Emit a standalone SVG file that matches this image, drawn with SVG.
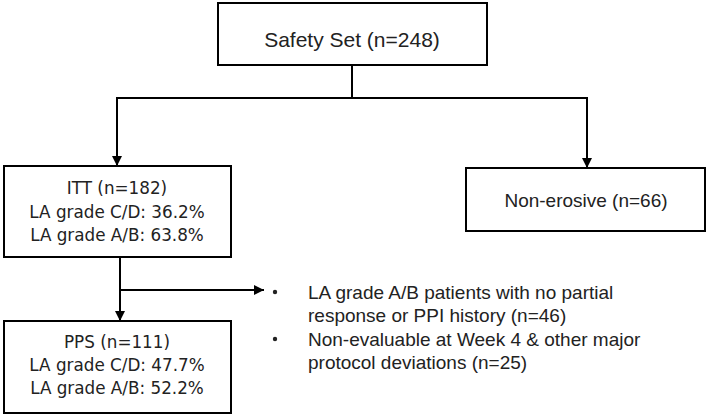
<svg xmlns="http://www.w3.org/2000/svg" width="709" height="416" viewBox="0 0 709 416">
  <style>
    .box { fill: #ffffff; stroke: #000000; stroke-width: 2; }
    .ln { fill: none; stroke: #000000; stroke-width: 2; }
    .t1 { font-family: "Liberation Sans", Arial, sans-serif; fill: #222222; text-anchor: middle; }
    .t2 { font-family: "DejaVu Sans", Verdana, sans-serif; fill: #222222; text-anchor: middle; font-size: 16.8px; }
    .t3 { font-family: "Liberation Sans", Arial, sans-serif; fill: #222222; font-size: 19px; }
  </style>
  <defs>
    <marker id="arr" markerUnits="userSpaceOnUse" markerWidth="12" markerHeight="12" refX="10" refY="5" orient="auto">
      <path d="M0,0 L10,5 L0,10 Z" fill="#000000"/>
    </marker>
  </defs>
  <rect width="709" height="416" fill="#ffffff"/>

  <g id="connectors">
    <line class="ln" x1="352" y1="65" x2="352" y2="98"/>
    <line class="ln" x1="116" y1="98" x2="588" y2="98"/>
    <line class="ln" x1="117" y1="98" x2="117" y2="166" marker-end="url(#arr)"/>
    <line class="ln" x1="587" y1="98" x2="587" y2="168" marker-end="url(#arr)"/>
    <line class="ln" x1="120" y1="257" x2="120" y2="321" marker-end="url(#arr)"/>
    <line class="ln" x1="120" y1="290" x2="264" y2="290" marker-end="url(#arr)"/>
  </g>

  <g id="safety">
    <rect class="box" x="218" y="3" width="269" height="62"/>
    <text class="t1" x="352" y="47" font-size="21">Safety Set (n=248)</text>
  </g>

  <g id="itt">
    <rect class="box" x="4" y="166" width="227" height="91"/>
    <text class="t2" x="117" y="194">ITT (n=182)</text>
    <text class="t2" x="117" y="218">LA grade C/D: 36.2%</text>
    <text class="t2" x="117" y="241">LA grade A/B: 63.8%</text>
  </g>

  <g id="nonerosive">
    <rect class="box" x="466" y="168" width="239" height="63"/>
    <text class="t1" x="586" y="207" font-size="19">Non-erosive (n=66)</text>
  </g>

  <g id="pps">
    <rect class="box" x="4" y="321" width="227" height="92"/>
    <text class="t2" x="117" y="348">PPS (n=111)</text>
    <text class="t2" x="117" y="371">LA grade C/D: 47.7%</text>
    <text class="t2" x="117" y="394">LA grade A/B: 52.2%</text>
  </g>

  <g id="exclusions">
    <circle cx="275" cy="292" r="2.2" fill="#222222"/>
    <circle cx="275" cy="339" r="2.2" fill="#222222"/>
    <text class="t3" x="308" y="299">LA grade A/B patients with no partial</text>
    <text class="t3" x="308" y="322">response or PPI history (n=46)</text>
    <text class="t3" x="308" y="346">Non-evaluable at Week 4 &amp; other major</text>
    <text class="t3" x="308" y="369">protocol deviations (n=25)</text>
  </g>
</svg>
